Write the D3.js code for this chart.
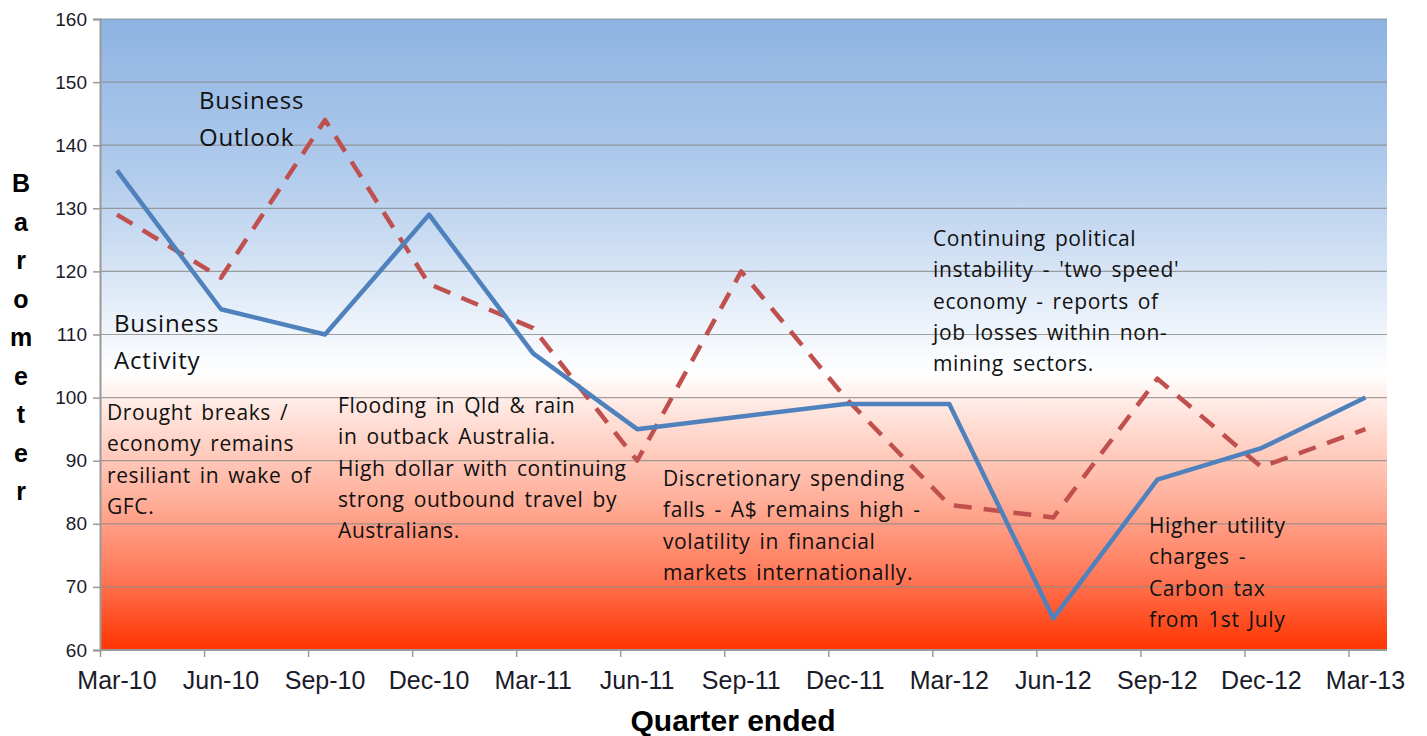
<!DOCTYPE html>
<html>
<head>
<meta charset="utf-8">
<script src="https://cdn.jsdelivr.net/npm/d3@7"></script>
<style>
  html, body { margin: 0; padding: 0; background: #ffffff; }
  svg { display: block; }
</style>
</head>
<body>
<svg id="chart" width="1427" height="736"></svg>
<script>
// ---- data ----
const quarters = ["Mar-10","Jun-10","Sep-10","Dec-10","Mar-11","Jun-11","Sep-11","Dec-11","Mar-12","Jun-12","Sep-12","Dec-12","Mar-13"];
const businessActivity = [136,114,110,129,107,95,97,99,99,65,87,92,100];
const businessOutlook  = [129,119,144,118,111,90,120,100,83,81,103,89,95];
const yTicks = [60,70,80,90,100,110,120,130,140,150,160];
const yTitle = "Barometer";
const xTitle = "Quarter ended";
const seriesLabels = [["Business","Outlook"],["Business","Activity"]];
const notes = [
  ["Drought breaks /","economy remains","resiliant in wake of","GFC."],
  ["Flooding  in Qld & rain","in outback Australia.","High dollar with continuing","strong outbound  travel by","Australians."],
  ["Discretionary spending","falls - A$ remains high -","volatility in financial","markets internationally."],
  ["Continuing political","instability - 'two speed'","economy  - reports of","job losses within non-","mining sectors."],
  ["Higher utility","charges -","Carbon tax","from 1st July"]
];

// ---- layout ----
const L = 100, R = 1387, T = 19, B = 650;
const svg = d3.select("#chart");
const x = d3.scaleLinear().domain([0, 12.37]).range([L, R]);
const offset = 0.163;
const px = i => x(i + offset);
const y = d3.scaleLinear().domain([60, 160]).range([B, T]);

// gradient background
const defs = svg.append("defs");
const grad = defs.append("linearGradient").attr("id","bg").attr("x1",0).attr("y1",0).attr("x2",0).attr("y2",1);
[[0,"#8DB3E2"],[0.25,"#B2CCEC"],[0.56,"#FFFFFF"],[0.62,"#FFE6DF"],[0.75,"#FFB4A0"],[0.88,"#FF7A5A"],[1,"#FF3300"]]
  .forEach(([o,c]) => grad.append("stop").attr("offset",o).attr("stop-color",c));
svg.append("rect").attr("x",L).attr("y",T).attr("width",R-L).attr("height",B-T).attr("fill","url(#bg)");

// gridlines
svg.append("g").selectAll("line").data(yTicks).join("line")
  .attr("x1",L).attr("x2",R).attr("y1",d=>y(d)).attr("y2",d=>y(d))
  .attr("stroke","#8a8a8a").attr("stroke-opacity",0.8).attr("stroke-width",1.2);

// y axis
const yAxis = d3.axisLeft(y).tickValues(yTicks).tickSize(7).tickPadding(6);
const gy = svg.append("g").attr("transform",`translate(${L},0)`).call(yAxis);
gy.select(".domain").attr("stroke","#999").attr("stroke-width",2);
gy.selectAll(".tick line").attr("stroke","#999").attr("stroke-width",1.5);
gy.selectAll(".tick text").attr("font-family","Liberation Sans, Arial, sans-serif").attr("font-size",19).attr("fill","#1a1a2a");

// x axis: ticks at category starts, labels centered on points
const xAxis = d3.axisBottom(x).tickValues(d3.range(13)).tickSize(7).tickFormat(()=> "");
const gx = svg.append("g").attr("transform",`translate(0,${B})`).call(xAxis);
gx.select(".domain").attr("stroke","#999").attr("stroke-width",2).attr("d",`M${L},0H${R}`);
gx.selectAll(".tick line").attr("stroke","#999").attr("stroke-width",1.5);
svg.append("g").selectAll("text").data(quarters).join("text")
  .attr("x",(d,i)=>px(i)).attr("y",689).attr("text-anchor","middle")
  .attr("font-family","Liberation Sans, Arial, sans-serif").attr("font-size",25).attr("fill","#1a1a2a")
  .text(d=>d);

// axis titles
svg.append("text").attr("x",733).attr("y",731).attr("text-anchor","middle")
  .attr("font-family","Liberation Sans, Arial, sans-serif").attr("font-weight","bold").attr("font-size",30).attr("fill","#000")
  .text(xTitle);
svg.append("g").selectAll("text").data(yTitle.split("")).join("text")
  .attr("x",21).attr("y",(d,i)=>192 + i*38.5).attr("text-anchor","middle")
  .attr("font-family","Liberation Sans, Arial, sans-serif").attr("font-weight","bold").attr("font-size",25).attr("fill","#000")
  .text(d=>d);

// lines
const line = d3.line().x((d,i)=>px(i)).y(d=>y(d));
svg.append("path").datum(businessOutlook).attr("d",line).attr("fill","none")
  .attr("stroke","#C0504D").attr("stroke-width",4.5).attr("stroke-dasharray","18,12").attr("stroke-linejoin","round");
svg.append("path").datum(businessActivity).attr("d",line).attr("fill","none")
  .attr("stroke","#4F81BD").attr("stroke-width",4.5).attr("stroke-linejoin","round");

// text blocks
function block(lines, x0, y0, size, lh, ls, ws) {
  const t = svg.append("text").attr("font-family","'Open Sans', Lato, sans-serif").attr("font-size",size)
    .attr("letter-spacing",ls).attr("word-spacing",ws).attr("fill","#111");
  lines.forEach((s,i)=> t.append("tspan").attr("x",x0).attr("y",y0+i*lh).text(s));
}
block(seriesLabels[0], 199, 109, 24, 36.5, 0.8, 0);
block(seriesLabels[1], 114, 332, 24, 36.5, 0.8, 0);
block(notes[0], 107, 420, 21, 31.3, 0.6, 3);
block(notes[1], 338, 413, 21, 31.3, 0.6, 3);
block(notes[2], 663, 486, 21, 31.3, 0.6, 3);
block(notes[3], 933, 246, 21, 31.3, 0.6, 3);
block(notes[4], 1149, 533, 21, 31.3, 0.6, 3);
</script>
</body>
</html>
